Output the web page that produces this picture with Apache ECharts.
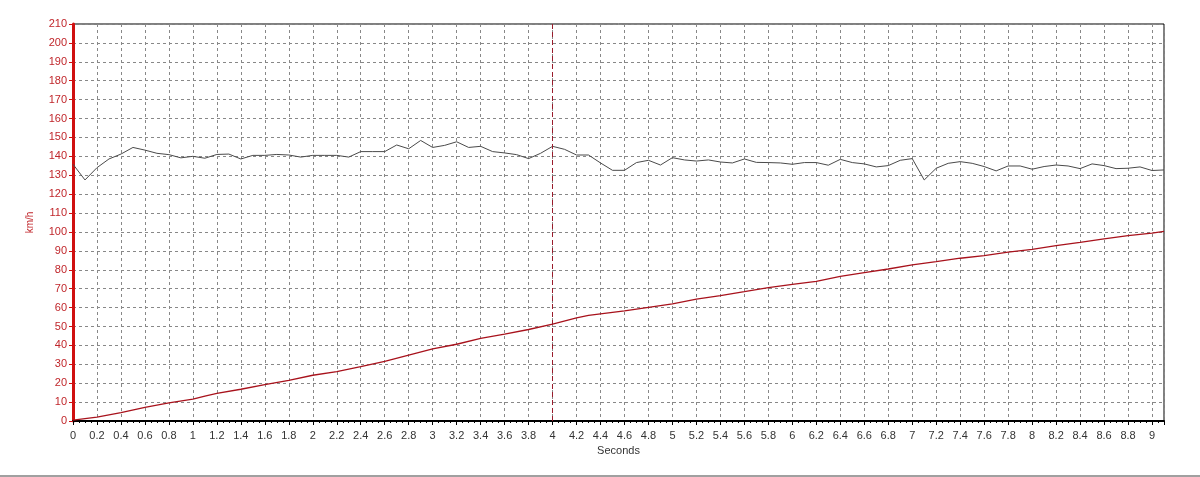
<!DOCTYPE html>
<html>
<head>
<meta charset="utf-8">
<style>html,body{margin:0;padding:0;background:#fff;}#c{width:1200px;height:477px;}</style>
<script src="https://cdn.jsdelivr.net/npm/echarts@6/dist/echarts.min.js"></script>
</head>
<body>
<div id="c"></div>
<script>
// Black trace (top), sampled every 0.1 s
const tBlack = [0.0,0.1,0.2,0.3,0.4,0.5,0.6,0.7,0.8,0.9,1.0,1.1,1.2,1.3,1.4,1.5,1.6,1.7,1.8,1.9,2.0,2.1,2.2,2.3,2.4,2.5,2.6,2.7,2.8,2.9,3.0,3.1,3.2,3.3,3.4,3.5,3.6,3.7,3.8,3.9,4.0,4.1,4.2,4.3,4.4,4.5,4.6,4.7,4.8,4.9,5.0,5.1,5.2,5.3,5.4,5.5,5.6,5.7,5.8,5.9,6.0,6.1,6.2,6.3,6.4,6.5,6.6,6.7,6.8,6.9,7.0,7.1,7.2,7.3,7.4,7.5,7.6,7.7,7.8,7.9,8.0,8.1,8.2,8.3,8.4,8.5,8.6,8.7,8.8,8.9,9.0,9.1];
const vBlack = [135.8,127.5,134,138.6,141.2,144.7,143.3,141.6,140.9,139.2,140.0,139.0,141.0,141.2,138.6,140.5,140.5,141.0,140.7,139.6,140.5,140.5,140.5,139.6,142.5,142.5,142.5,146.0,144.0,148.4,144.7,145.8,147.7,144.7,145.3,142.5,141.8,140.9,138.8,141.6,145.3,143.7,140.7,140.7,136.5,132.6,132.6,136.7,137.9,135.4,139.3,138.1,137.5,138.1,137.0,136.5,138.6,136.8,136.7,136.5,135.8,136.7,136.7,135.3,138.4,136.7,136.0,134.4,135.1,137.9,138.8,127.5,133.7,136.3,137.2,136.3,134.6,132.3,134.9,134.9,133.2,134.6,135.4,134.9,133.5,136.0,135.1,133.5,133.7,134.4,132.5,132.8];
// Red trace (speed)
const tRed = [0.0,0.2,0.4,0.6,0.8,1.0,1.1,1.2,1.4,1.6,1.8,2.0,2.2,2.4,2.6,2.8,3.0,3.2,3.4,3.6,3.8,4.0,4.2,4.3,4.4,4.6,4.8,5.0,5.2,5.4,5.6,5.8,6.0,6.2,6.4,6.6,6.8,7.0,7.2,7.4,7.6,7.8,8.0,8.2,8.4,8.6,8.8,9.0,9.1];
const vRed = [0.5,2.0,4.4,7.2,9.6,11.6,13.2,14.6,16.8,19.2,21.5,24.2,26.1,28.8,31.6,34.9,38.1,40.6,43.7,45.9,48.4,51.3,54.5,55.9,56.7,58.2,60.1,61.9,64.5,66.3,68.4,70.6,72.3,73.9,76.5,78.5,80.4,82.6,84.3,86.1,87.5,89.3,90.8,92.8,94.5,96.3,98.1,99.4,100.3];
const markerT = 4;
const xTickStep = 0.2, xMax = 9.1;
const yTickStep = 10, yMax = 210;

const blackData = tBlack.map((t,i)=>[t,vBlack[i]]);
const redData = tRed.map((t,i)=>[t,vRed[i]]);
const FONT = '"Liberation Sans", Arial, sans-serif';
const chart = echarts.init(document.getElementById('c'), null, {renderer:'canvas'});
chart.setOption({
  animation:false,
  backgroundColor:'#fff',
  grid:{left:73, top:24, right:36, bottom:56, show:true, borderColor:'#000', borderWidth:1},
  xAxis:{
    type:'value', min:0, max:xMax, interval:xTickStep,
    name:'Seconds', nameLocation:'middle', nameGap:21,
    nameTextStyle:{color:'#333', fontFamily:FONT, fontSize:11},
    axisLine:{onZero:false, lineStyle:{color:'#000', width:2}},
    axisTick:{show:true, length:4, lineStyle:{color:'#000'}},
    minorTick:{show:true, splitNumber:4, length:2, lineStyle:{color:'#000'}},
    axisLabel:{color:'#333', fontFamily:FONT, fontSize:11, margin:9, showMaxLabel:false},
    splitLine:{show:true, lineStyle:{color:'#888', type:[3,3], width:1}}
  },
  yAxis:{
    type:'value', min:0, max:yMax, interval:yTickStep,
    name:'km/h', nameLocation:'middle', nameRotate:90, nameGap:38,
    nameTextStyle:{color:'#c0262b', fontFamily:FONT, fontSize:10},
    axisLine:{show:true, lineStyle:{color:'#d01010', width:3}},
    axisTick:{show:true, length:4, lineStyle:{color:'#d01010'}},
    axisLabel:{color:'#c0262b', fontFamily:FONT, fontSize:11, margin:6},
    splitLine:{show:true, lineStyle:{color:'#888', type:[3,3], width:1}}
  },
  series:[
    {type:'line', data:blackData, showSymbol:false, lineStyle:{color:'#4a4a4a', width:1}, z:3,
     markLine:{symbol:'none', silent:true, label:{show:false},
       lineStyle:{color:'#9a1c2c', type:[5,3], width:1},
       data:[{xAxis:markerT}]}},
    {type:'line', data:redData, showSymbol:false, lineStyle:{color:'#a8121c', width:1.3}, z:4}
  ],
  graphic:[{type:'rect', shape:{x:0, y:475, width:1200, height:2}, style:{fill:'#a0a0a0'}, silent:true}]
});
</script>
</body>
</html>
